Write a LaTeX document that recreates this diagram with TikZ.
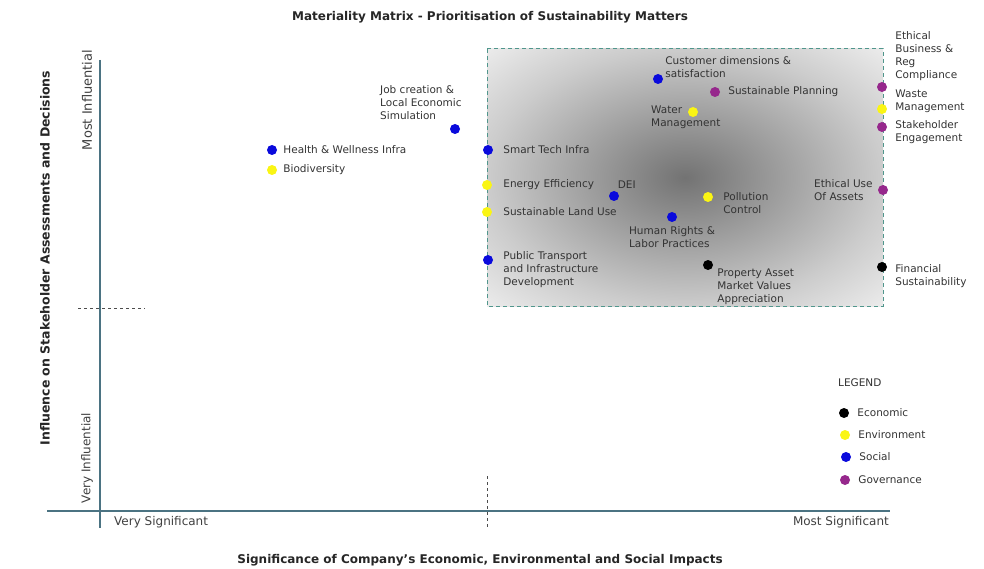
\documentclass[tikz,border=0pt]{standalone}
\usepackage{fontspec}
\setmainfont{DejaVu Sans}
\usepackage{xcolor}
\usetikzlibrary{positioning}
\definecolor{econ}     {RGB}{0,0,0}
\definecolor{env}      {RGB}{250,245,20}
\definecolor{social}   {RGB}{10,10,220}
\definecolor{gov}      {RGB}{150,40,140}
\definecolor{axisteal} {RGB}{75,115,130}
\definecolor{boxteal}  {RGB}{80,150,140}
\pgfdeclareradialshading{zonefade}{\pgfpoint{0bp}{0bp}}{%
color(0bp)=(black!55); color(5bp)=(black!48); color(25bp)=(black!20); color(36bp)=(black!7); color(50bp)=(black!7)}
\tikzset{ % Setup for the matrix
dot/.style={circle, inner sep=0pt, minimum size=10pt},
econdot/.style={dot, fill=econ},
envdot/.style={dot, fill=env},
socdot/.style={dot, fill=social},
govdot/.style={dot, fill=gov},
lbl/.style={font=\fontsize{10.5}{13}\selectfont, align=left, inner sep=1pt, text=black!80},
axislbl/.style={font=\fontsize{12}{14}\selectfont, inner sep=1pt, text=black!75},
axistitle/.style={font=\bfseries\fontsize{11}{13}\selectfont, inner sep=1pt, text=black!85},
}

\begin{document}
\begin{tikzpicture}[x=1pt, y=-1pt]
            \useasboundingbox (0,0) rectangle (984,569);
            % priority zone
            \shade[shading=zonefade] (487,49) rectangle (883,306);
            \draw[boxteal, line width=1pt, dash pattern=on 4pt off 3pt] (487,49) rectangle (883,306);
            % axes
            \coordinate (xl) at (47,511);
            \coordinate (xr) at (890,511);
            \coordinate (yt) at (100,60);
            \coordinate (yb) at (100,528);
            \draw[axisteal, line width=1.5pt] (xl) -- (xr);
            \draw[axisteal, line width=1.5pt] (yt) -- (yb);
            \coordinate (xm1) at (487,476);
            \coordinate (xm2) at (487,528);
            \coordinate (ym1) at (78,308);
            \coordinate (ym2) at (145,308);
            \draw[black!70, dashed] (xm1) -- (xm2);
            \draw[black!70, dashed] (ym1) -- (ym2);
            \node[axistitle, font=\bfseries\fontsize{12}{14}\selectfont] (title) at (490,17) {Materiality Matrix - Prioritisation of Sustainability Matters};
            \node[axistitle, font=\bfseries\fontsize{12}{14}\selectfont] (xtitle) at (480,560) {Significance of Company's Economic, Environmental and Social Impacts};
            \node[axistitle, font=\bfseries\fontsize{12.5}{14}\selectfont, rotate=90] (ytitle) at (45,258) {Influence on Stakeholder Assessments and Decisions};
            \node[axislbl, anchor=west] (vsig) at (113,522) {Very Significant};
            \node[axislbl, anchor=east] (msig) at (890,522) {Most Significant};
            \node[axislbl, rotate=90] (vinf) at (87,458) {Very Influential};
            \node[axislbl, font=\fontsize{13}{14}\selectfont, rotate=90] (minf) at (87,100) {Most Influential};
            % matters
            \node[socdot] (job) at (455,129) {};
            \node[lbl, anchor=south west, xshift=-76pt, yshift=8pt] (jobl) at (job) {Job creation \&\\Local Economic\\Simulation};
            \node[socdot] (health) at (272,150) {};
            \node[lbl, right=5pt of health] (healthl) {Health \& Wellness Infra};
            \node[envdot] (bio) at (272,170) {};
            \node[lbl, right=5pt of bio] (biol) {Biodiversity};
            \node[socdot] (smart) at (488,150) {};
            \node[lbl, right=9pt of smart] (smartl) {Smart Tech Infra};
            \node[envdot] (energy) at (487,185) {};
            \node[lbl, right=10pt of energy] (energyl) {Energy Efficiency};
            \node[envdot] (land) at (487,212) {};
            \node[lbl, right=10pt of land] (landl) {Sustainable Land Use};
            \node[socdot] (pubt) at (488,260) {};
            \node[lbl, right=9pt of pubt, yshift=-10pt] (pubtl) {Public Transport\\and Infrastructure\\Development};
            \node[socdot] (dei) at (614,196) {};
            \node[lbl, above right=3pt and -1pt of dei] (deil) {DEI};
            \node[socdot] (human) at (672,217) {};
            \node[lbl, below=3pt of human] (humanl) {Human Rights \&\\Labor Practices};
            \node[envdot] (poll) at (708,197) {};
            \node[lbl, right=9pt of poll, yshift=-6.5pt] (polll) {Pollution\\Control};
            \node[econdot] (prop) at (708,265) {};
            \node[lbl, right=3pt of prop, yshift=-22pt] (propl) {Property Asset\\Market Values\\Appreciation};
            \node[socdot] (cust) at (658,79) {};
            \node[lbl, right=1pt of cust, yshift=11.5pt] (custl) {Customer dimensions \&\\satisfaction};
            \node[govdot] (plan) at (715,92) {};
            \node[lbl, right=7pt of plan] (planl) {Sustainable Planning};
            \node[envdot] (water) at (693,112) {};
            \node[lbl, anchor=north west, xshift=-43pt, yshift=7.5pt] (waterl) at (water) {Water\\Management};
            \node[govdot] (ethbus) at (882,87) {};
            \node[lbl, right=7pt of ethbus, yshift=31pt] (ethbusl) {Ethical\\Business \&\\Reg\\Compliance};
            \node[envdot] (waste) at (882,109) {};
            \node[lbl, right=7pt of waste, yshift=7.5pt] (wastel) {Waste\\Management};
            \node[govdot] (stake) at (882,127) {};
            \node[lbl, right=7pt of stake, yshift=-5.5pt] (stakel) {Stakeholder\\Engagement};
            \node[govdot] (ethuse) at (883,190) {};
            \node[lbl, left=4pt of ethuse] (ethusel) {Ethical Use\\Of Assets};
            \node[econdot] (fin) at (882,267) {};
            \node[lbl, right=7pt of fin, yshift=-9.5pt] (finl) {Financial\\Sustainability};
            % legend
            \node[lbl, anchor=west] (legend) at (837,383) {LEGEND};
            \node[econdot] (leco) at (844,413) {};
            \node[lbl, right=7pt of leco] (lecol) {Economic};
            \node[envdot] (lenv) at (845,435) {};
            \node[lbl, right=7pt of lenv] (lenvl) {Environment};
            \node[socdot] (lsoc) at (846,457) {};
            \node[lbl, right=7pt of lsoc] (lsocl) {Social};
            \node[govdot] (lgov) at (845,480) {};
            \node[lbl, right=7pt of lgov] (lgovl) {Governance};
        \end{tikzpicture}
\end{document}
